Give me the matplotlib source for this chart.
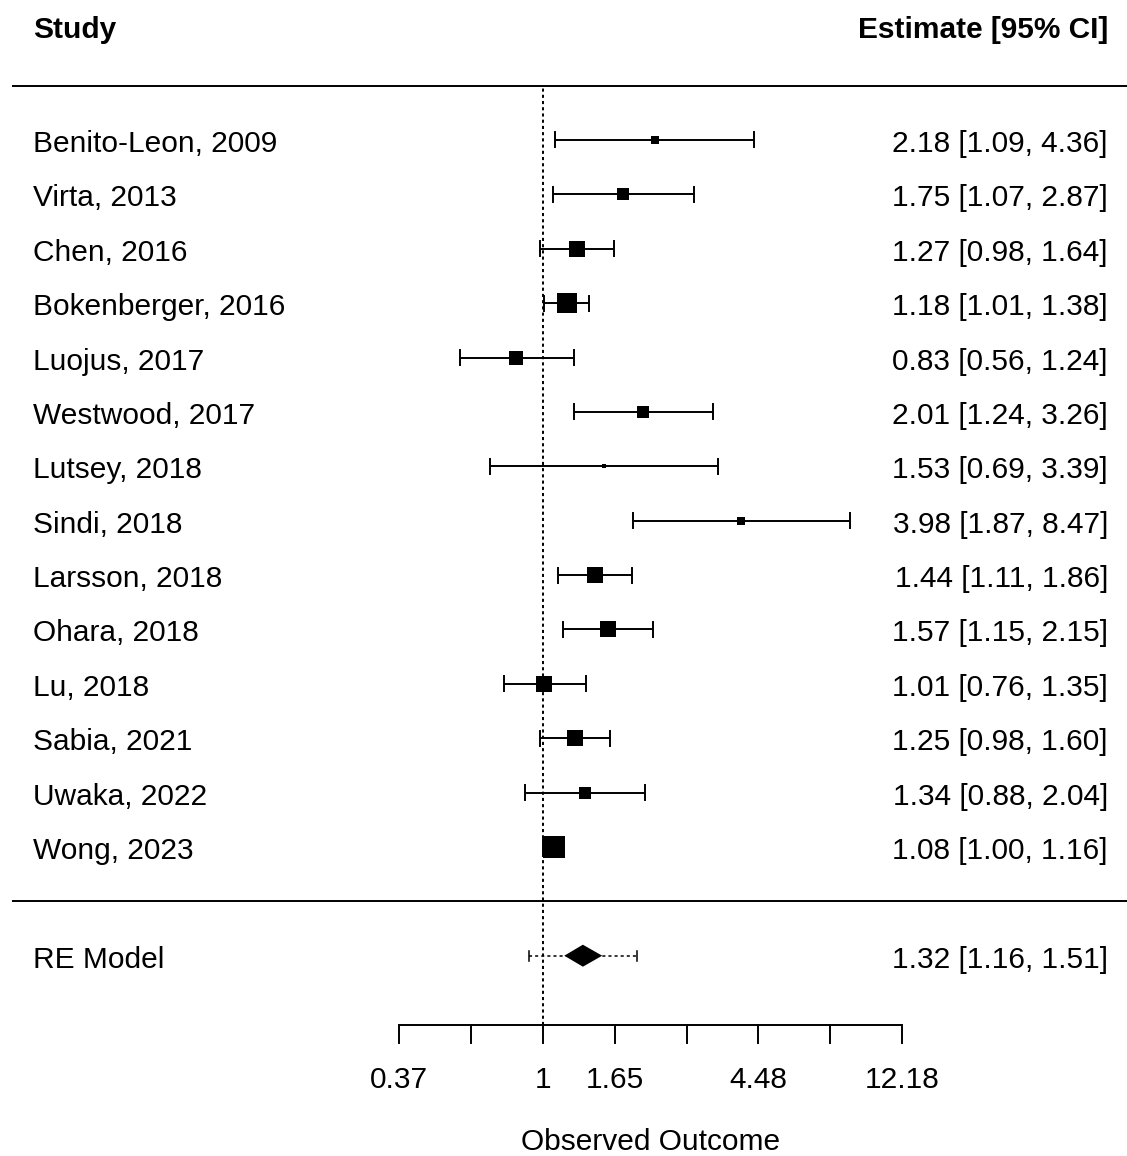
import numpy as np
import matplotlib
matplotlib.use("Agg")
import matplotlib.pyplot as plt
import matplotlib.transforms as mtransforms

plt.rcParams['font.family'] = ['Liberation Sans', 'DejaVu Sans']

studies = ["Benito-Leon, 2009", "Virta, 2013", "Chen, 2016", "Bokenberger, 2016",
           "Luojus, 2017", "Westwood, 2017", "Lutsey, 2018", "Sindi, 2018",
           "Larsson, 2018", "Ohara, 2018", "Lu, 2018", "Sabia, 2021",
           "Uwaka, 2022", "Wong, 2023"]
est = [2.18, 1.75, 1.27, 1.18, 0.83, 2.01, 1.53, 3.98, 1.44, 1.57, 1.01, 1.25, 1.34, 1.08]
lo = [1.09, 1.07, 0.98, 1.01, 0.56, 1.24, 0.69, 1.87, 1.11, 1.15, 0.76, 0.98, 0.88, 1.00]
hi = [4.36, 2.87, 1.64, 1.38, 1.24, 3.26, 3.39, 8.47, 1.86, 2.15, 1.35, 1.60, 2.04, 1.16]
weights = [3.3, 6.0, 8.7, 11.3, 7.3, 6.0, 1.3, 2.7, 8.7, 9.3, 9.3, 9.3, 6.0, 12.7]

re_est, re_lo, re_hi = 1.32, 1.16, 1.51
pi_lo, pi_hi = 0.907, 1.93

tick_vals = [0.3679, 0.6065, 1.0, 1.6487, 2.7183, 4.4817, 7.3891, 12.1825]
tick_labels = ["0.37", "", "1", "1.65", "", "4.48", "", "12.18"]

W, H = 1127, 1156
DPI = 100
fig = plt.figure(figsize=(W / DPI, H / DPI), dpi=DPI)
ax = fig.add_axes([0, 0, 1, 1])
ax.set_xscale('log')
x0, scale = 543.0, 143.6
ax.set_xlim(np.exp((0 - x0) / scale), np.exp((W - x0) / scale))
k = len(studies)
row_px = 54.38
top_row_px = 140.0
ax.set_ylim(k - (H - top_row_px) / row_px, k + top_row_px / row_px)
ax.axis('off')


def py(p):
    """pixel row (from top) -> data y"""
    return k - (p - top_row_px) / row_px


bt = mtransforms.blended_transform_factory(ax.transAxes, ax.transData)
fs = 21.5
lw = 1.4
base_off = 12.0 / row_px

rows = np.arange(k, 0, -1)
xl = 33 / W
xr = 1108 / W

# headers
ax.text(xl, py(38.5), "Study", transform=bt, fontsize=fs, fontweight='bold',
        ha='left', va='baseline')
ax.text(xr, py(38.5), "Estimate [95% CI]", transform=bt, fontsize=fs, fontweight='bold',
        ha='right', va='baseline')
# separator lines
ax.plot([12 / W, 1.0], [k + 1, k + 1], transform=bt, color='black', lw=lw,
        solid_capstyle='butt')
ax.plot([12 / W, 1.0], [0, 0], transform=bt, color='black', lw=lw,
        solid_capstyle='butt')

# reference line
axis_y = py(1025)
ax.plot([1, 1], [axis_y, k + 1], color='black', lw=lw, linestyle=(0, (1.6, 1.6)))

cap = 7.5 / row_px
for r, name, e, l, h, w in zip(rows, studies, est, lo, hi, weights):
    ax.plot([l, h], [r, r], color='black', lw=lw, solid_capstyle='butt')
    ax.plot([l, l], [r - cap, r + cap], color='black', lw=lw)
    ax.plot([h, h], [r - cap, r + cap], color='black', lw=lw)
    size_px = 3 + 1.5 * w
    ax.plot([e], [r], marker='s', color='black', markersize=size_px * 0.72,
            markeredgewidth=0)
    ax.text(xl, r - base_off, name, transform=bt, fontsize=fs, ha='left',
            va='baseline')
    ax.text(xr, r - base_off, f"{e:.2f} [{l:.2f}, {h:.2f}]", transform=bt,
            fontsize=fs, ha='right', va='baseline')

# RE model
ry = -1
ax.plot([pi_lo, pi_hi], [ry, ry], color='black', lw=1.1, linestyle=(0, (2, 2)))
pcap = 5 / row_px
for v in (pi_lo, pi_hi):
    ax.plot([v, v], [ry - pcap, ry + pcap], color='black', lw=1.1)
dh = 11 / row_px
ax.fill([re_lo, re_est, re_hi, re_est], [ry, ry + dh, ry, ry - dh], color='black',
        lw=0)
ax.text(xl, ry - base_off, "RE Model", transform=bt, fontsize=fs, ha='left',
        va='baseline')
ax.text(xr, ry - base_off, f"{re_est:.2f} [{re_lo:.2f}, {re_hi:.2f}]", transform=bt,
        fontsize=fs, ha='right', va='baseline')

# x axis
tick_len = 18 / row_px
ax.plot([tick_vals[0], tick_vals[-1]], [axis_y, axis_y], color='black', lw=lw,
        solid_capstyle='butt')
lab_y = py(1088)
for v, t in zip(tick_vals, tick_labels):
    ax.plot([v, v], [axis_y, axis_y - tick_len], color='black', lw=lw)
    if t:
        ax.text(v, lab_y, t, fontsize=fs, ha='center', va='baseline')
mid = np.sqrt(tick_vals[0] * tick_vals[-1])
ax.text(mid, py(1150), "Observed Outcome", fontsize=fs, ha='center', va='baseline')

fig.savefig("out.png", dpi=DPI, facecolor='white')
